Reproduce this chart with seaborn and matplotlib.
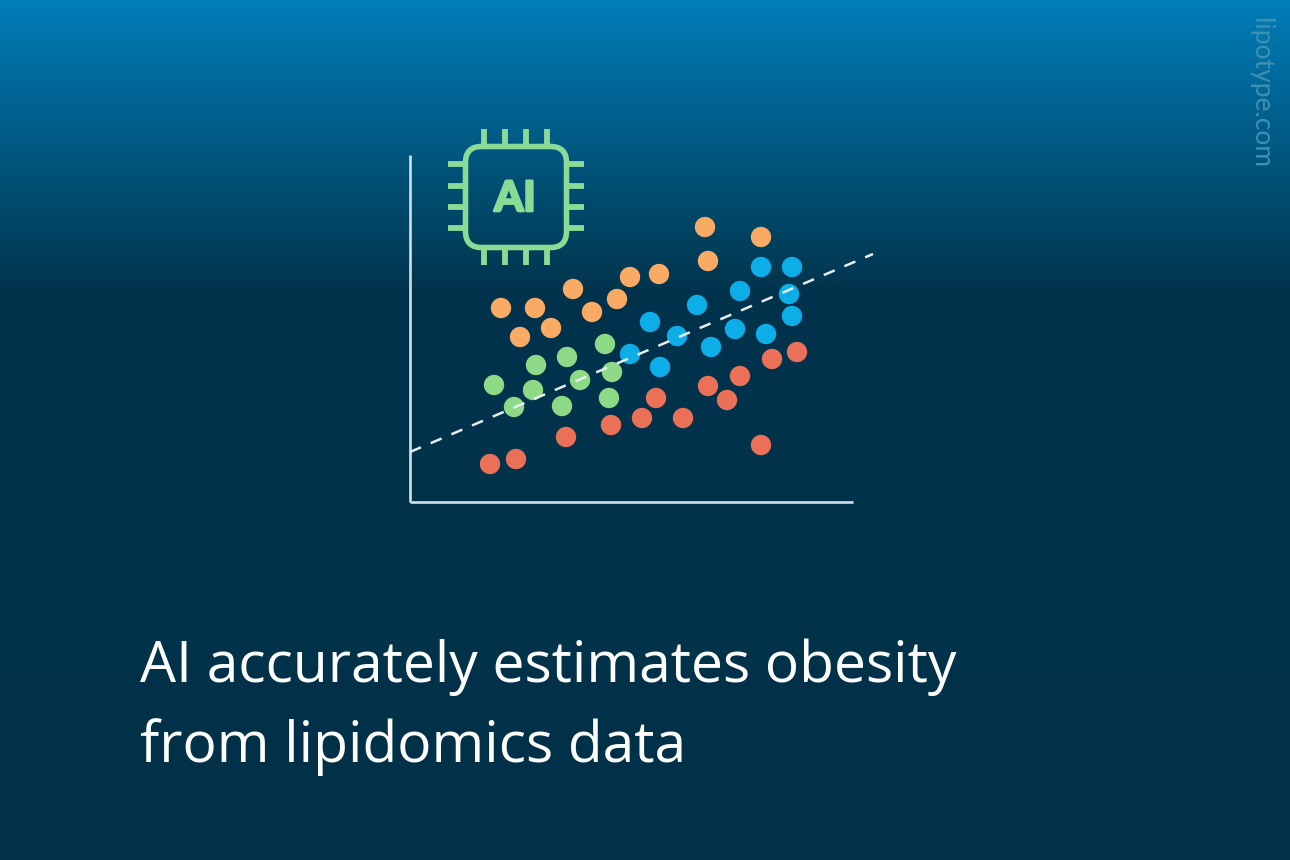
import numpy as np
import pandas as pd
import matplotlib.pyplot as plt
import matplotlib.patheffects as pe
from matplotlib.colors import LinearSegmentedColormap
from matplotlib.patches import FancyBboxPatch
import seaborn as sns

# values, in units of the plot area
orange_x = [91, 125, 110, 141, 163, 182, 207, 220, 249, 295, 298, 351]
orange_y = [194, 194, 165, 174, 213, 190, 203, 225, 228, 275, 241, 265]
blue_x = [220, 240, 250, 267, 287, 301, 325, 330, 351, 382, 379, 382, 356]
blue_y = [148, 180, 135, 166, 197, 155, 173, 211, 235, 235, 208, 186, 168]
green_x = [84, 126, 123, 104, 157, 170, 195, 202, 152, 199]
green_y = [117, 137, 112, 95, 145, 122, 158, 130, 96, 104]
red_x = [80, 106, 156, 201, 232, 246, 273, 298, 317, 330, 362, 387, 351]
red_y = [38, 43, 65, 77, 84, 104, 84, 116, 102, 126, 143, 150, 57]
fit_x = [0, 463]
fit_y = [50, 248]

groups = ["high", "upper", "mid", "low"]
colors = ["#F9AB65", "#0DAEE8", "#8DD986", "#EA7058"]

title_lines = ["AI accurately estimates obesity", "from lipidomics data"]
site = "lipotype.com"

df = pd.concat([
    pd.DataFrame({"x": orange_x, "y": orange_y, "group": "high"}),
    pd.DataFrame({"x": blue_x, "y": blue_y, "group": "upper"}),
    pd.DataFrame({"x": green_x, "y": green_y, "group": "mid"}),
    pd.DataFrame({"x": red_x, "y": red_y, "group": "low"}),
])

sns.set_style("white")
plt.rcParams['font.family'] = ['Open Sans', 'DejaVu Sans']

W, H = 1290, 860
fig = plt.figure(figsize=(W / 100, H / 100), dpi=100)

# gradient background
bg = fig.add_axes([0, 0, 1, 1], zorder=0)
cmap = LinearSegmentedColormap.from_list("bg", [(0, "#007DB8"), (290 / 860, "#00344C"), (1, "#003148")])
bg.imshow(np.linspace(0, 1, H).reshape(-1, 1), cmap=cmap, aspect="auto", extent=[0, W, H, 0], vmin=0, vmax=1)
bg.set_xlim(0, W)
bg.set_ylim(H, 0)
bg.axis("off")

# scatter area
ax = fig.add_axes([410 / W, 1 - 502 / H, 443 / W, 347 / H], zorder=1)
ax.patch.set_alpha(0)
sns.scatterplot(data=df, x="x", y="y", hue="group", hue_order=groups, palette=colors,
                s=215, linewidth=0, legend=False, ax=ax, clip_on=False, zorder=3)
sns.lineplot(x=fit_x, y=fit_y, color="#E4EEF0", lw=1.8, linestyle=(0, (4.76, 4.24)),
             ax=ax, clip_on=False, zorder=4)
ax.set_xlim(0, 443)
ax.set_ylim(0, 347)
ax.set_xticks([])
ax.set_yticks([])
ax.set_xlabel("")
ax.set_ylabel("")
sns.despine(ax=ax)
for s in ["left", "bottom"]:
    ax.spines[s].set_color("#CFE0E6")
    ax.spines[s].set_linewidth(1.9)
    ax.spines[s].set_capstyle("butt")

# chip icon, in pixels of the figure
icon = fig.add_axes([0, 0, 1, 1], zorder=2)
icon.patch.set_alpha(0)
icon.set_xlim(0, W)
icon.set_ylim(H, 0)
icon.axis("off")
green = "#8ADB95"
icon.add_patch(FancyBboxPatch((481, 162), 70, 70, boxstyle="round,pad=15.5,rounding_size=16",
                              fill=False, ec=green, lw=4))
for p in [484, 505, 526, 547]:
    icon.plot([p, p], [129, 146], color=green, lw=4.2, solid_capstyle="butt")
    icon.plot([p, p], [248, 265], color=green, lw=4.2, solid_capstyle="butt")
for p in [164, 185.5, 207, 228]:
    icon.plot([448, 465], [p, p], color=green, lw=4.2, solid_capstyle="butt")
    icon.plot([567, 584], [p, p], color=green, lw=4.2, solid_capstyle="butt")
icon.text(515, 211, "AI", color=green, fontsize=30, fontweight="bold",
          family=["Lato", "DejaVu Sans"], ha="center", va="baseline",
          path_effects=[pe.withStroke(linewidth=2, foreground=green)])

# texts
icon.text(140, 682, title_lines[0], color="white", fontsize=41, ha="left", va="baseline")
icon.text(140, 762, title_lines[1], color="white", fontsize=41, ha="left", va="baseline")
icon.text(1261, 93.5, site, color="#3F90B2", fontsize=19,
          family=["Lato", "DejaVu Sans"], rotation=270, ha="center", va="center")

fig.savefig("out.png", dpi=100)
